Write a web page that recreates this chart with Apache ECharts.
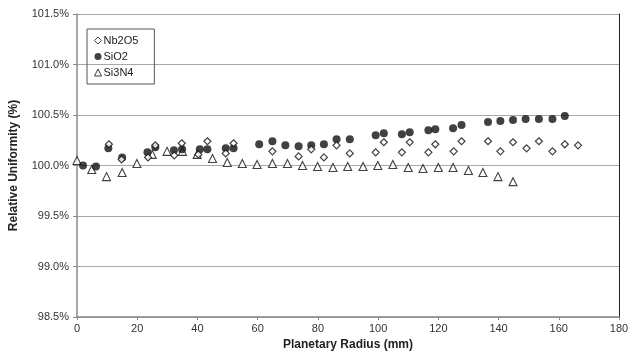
<!DOCTYPE html>
<html>
<head>
<meta charset="utf-8">
<script src="https://cdn.jsdelivr.net/npm/echarts@6/dist/echarts.min.js"></script>
<style>
  html, body { margin: 0; padding: 0; background: #fff; }
  #chart { width: 634px; height: 356px; }
</style>
</head>
<body>
<div id="chart"></div>
<script>
// radius (mm), relative uniformity (%)
const nb2o5 = [
  [10.6, 100.21], [14.8, 100.06], [23.6, 100.08], [26, 100.20], [32.3, 100.10],
  [34.8, 100.22], [40.3, 100.11], [43.3, 100.24], [49.4, 100.12], [52, 100.22],
  [64.9, 100.14], [73.6, 100.09], [77.8, 100.16], [82, 100.08], [86.2, 100.20],
  [90.6, 100.12], [99.2, 100.13], [101.9, 100.23], [107.9, 100.13], [110.5, 100.23],
  [116.7, 100.13], [119, 100.21], [125.1, 100.14], [127.7, 100.24], [136.5, 100.24],
  [140.6, 100.14], [144.8, 100.23], [149.3, 100.17], [153.4, 100.24], [157.9, 100.14],
  [162, 100.21], [166.4, 100.20]
];
const sio2 = [
  [2, 100.00], [6.3, 99.99], [10.4, 100.17], [15, 100.08], [23.4, 100.13],
  [26, 100.18], [32.2, 100.15], [34.9, 100.16], [40.8, 100.16], [43.3, 100.16],
  [49.4, 100.17], [52, 100.17], [60.5, 100.21], [64.9, 100.24], [69.2, 100.20],
  [73.6, 100.19], [77.8, 100.20], [82, 100.21], [86.2, 100.26], [90.6, 100.26],
  [99.2, 100.30], [101.9, 100.32], [107.9, 100.31], [110.5, 100.33], [116.7, 100.35],
  [119, 100.36], [124.9, 100.37], [127.7, 100.40], [136.5, 100.43], [140.6, 100.44],
  [144.8, 100.45], [149, 100.46], [153.4, 100.46], [157.9, 100.46], [162, 100.49]
];
const si3n4 = [
  [0, 100.05], [4.9, 99.96], [9.8, 99.89], [15, 99.93], [19.9, 100.02],
  [25, 100.11], [29.9, 100.14], [35, 100.14], [39.9, 100.11], [45, 100.07],
  [49.9, 100.03], [54.9, 100.02], [59.8, 100.01], [64.9, 100.02], [69.9, 100.02],
  [74.9, 100.00], [79.9, 99.99], [85, 99.98], [89.9, 99.99], [95, 99.99],
  [99.9, 100.00], [104.9, 100.01], [110, 99.98], [114.9, 99.97], [120, 99.98],
  [124.9, 99.98], [130, 99.95], [134.8, 99.93], [139.8, 99.89], [144.8, 99.84]
];
const xTicks = { min: 0, max: 180, interval: 20 };
const yTicks = { min: 98.5, max: 101.5, interval: 0.5 };

const chart = echarts.init(document.getElementById("chart"), null, { renderer: "canvas" });

const font = "Liberation Sans, Arial, sans-serif";

const option = {
  backgroundColor: "#fff",
  animation: false,
  textStyle: { fontFamily: font },
  grid: { left: 77, right: 15, top: 14, bottom: 35 },
  legend: {
    orient: "vertical",
    left: 87,
    top: 29,
    padding: [6, 16, 6, 7],
    itemGap: 5,
    itemWidth: 7,
    itemHeight: 7,
    borderColor: "#555",
    borderWidth: 1,
    textStyle: { fontFamily: font, fontSize: 11, color: "#222", padding: [0, 0, 0, -3] },
    data: [
      { name: "Nb2O5", itemStyle: { borderWidth: 1 } },
      { name: "SiO2" },
      { name: "Si3N4", itemStyle: { borderWidth: 1 } }
    ]
  },
  xAxis: {
    type: "value",
    min: xTicks.min,
    max: xTicks.max,
    interval: xTicks.interval,
    name: "Planetary Radius (mm)",
    nameLocation: "middle",
    nameGap: 22,
    nameTextStyle: { fontFamily: font, fontSize: 12, fontWeight: "bold", color: "#222" },
    axisLine: { lineStyle: { color: "#888", width: 1.5 } },
    axisTick: { show: true, length: 3, lineStyle: { color: "#888" } },
    axisLabel: { fontFamily: font, fontSize: 11, color: "#333", margin: 6 },
    splitLine: { show: false }
  },
  yAxis: [
    {
      type: "value",
      min: yTicks.min,
      max: yTicks.max,
      interval: yTicks.interval,
      name: "Relative Uniformity (%)",
      nameLocation: "middle",
      nameGap: 57,
      nameTextStyle: { fontFamily: font, fontSize: 12, fontWeight: "bold", color: "#222" },
      axisLine: { show: true, lineStyle: { color: "#888", width: 1.5 } },
      axisTick: { show: true, length: 4, lineStyle: { color: "#888" } },
      axisLabel: {
        fontFamily: font, fontSize: 11, color: "#333", margin: 8,
        formatter: (v) => v.toFixed(1) + "%"
      },
      splitLine: { show: true, lineStyle: { color: "#a8a8a8", width: 1 } }
    },
    {
      type: "value",
      position: "right",
      min: yTicks.min,
      max: yTicks.max,
      interval: yTicks.interval,
      axisLine: { show: true, lineStyle: { color: "#222", width: 1 } },
      axisTick: { show: false },
      axisLabel: { show: false },
      splitLine: { show: false }
    }
  ],
  series: [
    {
      name: "Nb2O5",
      type: "scatter",
      symbol: "diamond",
      symbolSize: 7,
      itemStyle: { color: "#fff", borderColor: "#111", borderWidth: 1.2 },
      data: nb2o5,
      z: 3
    },
    {
      name: "SiO2",
      type: "scatter",
      symbol: "circle",
      symbolSize: 8,
      itemStyle: { color: "#111" },
      data: sio2,
      z: 2
    },
    {
      name: "Si3N4",
      type: "scatter",
      symbol: "triangle",
      symbolSize: 8,
      itemStyle: { color: "#fff", borderColor: "#111", borderWidth: 1.1 },
      data: si3n4,
      z: 1
    }
  ]
};

chart.setOption(option);
</script>
</body>
</html>
